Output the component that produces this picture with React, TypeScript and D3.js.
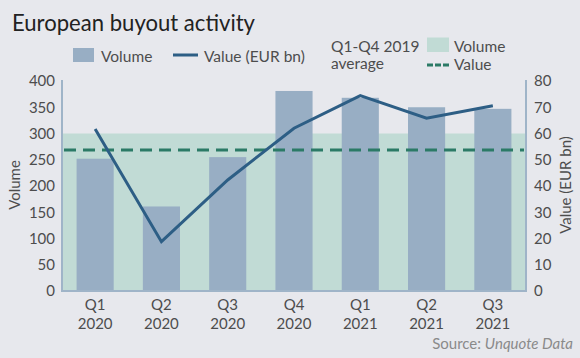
import React, { useEffect, useRef } from "react";
import * as d3 from "d3";

const quarters = ["Q1", "Q2", "Q3", "Q4", "Q1", "Q2", "Q3"];
const years = ["2020", "2020", "2020", "2020", "2021", "2021", "2021"];
const volume = [252, 161, 255, 381, 368, 350, 347];
const valueBn = [61.7, 18.8, 42.3, 62, 74.4, 65.8, 70.6];
const volumeAvg2019 = 300;
const valueAvg2019 = 53.7;
const volumeTicks = [0, 50, 100, 150, 200, 250, 300, 350, 400];
const valueTicks = [0, 10, 20, 30, 40, 50, 60, 70, 80];

const W = 580;
const H = 358;

const App: React.FC = () => {
    const svgRef = useRef<SVGSVGElement | null>(null);

    useEffect(() => {
        if (!svgRef.current) return;
        const svg = d3.select(svgRef.current);
        svg.selectAll("*").remove();

        const margin = { top: 81, right: 54, bottom: 67, left: 62 };
        const left = margin.left;
        const right = W - margin.right;
        const bottom = H - margin.bottom;
        const font = "Lato, 'Open Sans', sans-serif";
        const textColor = "#4d4d4d";
        const axisColor = "#9fb4c8";
        const barColor = "#98aec4";
        const bandColor = "#c1dbd5";
        const lineColor = "#2d5e85";
        const dashColor = "#2b7a66";

        svg.append("rect").attr("width", W).attr("height", H).attr("fill", "#e7e8ed");

        const labels = quarters.map((q, i) => q + " " + years[i] + i);
        const x = d3.scaleBand<string>().domain(labels).range([left, right]).paddingInner(0.44).paddingOuter(0.22);
        const yL = d3.scaleLinear().domain([0, 400]).range([bottom, margin.top]);
        const yR = d3.scaleLinear().domain([0, 80]).range([bottom, margin.top]);

        // title
        svg.append("text")
            .attr("x", 12).attr("y", 31)
            .attr("font-family", font).attr("font-size", 23)
            .attr("textLength", 243).attr("lengthAdjust", "spacingAndGlyphs")
            .attr("fill", "#222").text("European buyout activity");

        // 2019 average band
        svg.append("rect")
            .attr("x", left).attr("y", yL(volumeAvg2019))
            .attr("width", right - left).attr("height", bottom - yL(volumeAvg2019))
            .attr("fill", bandColor);

        // bars
        svg.append("g").selectAll("rect").data(volume).join("rect")
            .attr("x", (_d, i) => x(labels[i])!)
            .attr("y", (d) => yL(d))
            .attr("width", x.bandwidth())
            .attr("height", (d) => bottom - yL(d))
            .attr("fill", barColor);

        // dashed average value
        svg.append("line")
            .attr("x1", left + 2).attr("x2", right - 2)
            .attr("y1", yR(valueAvg2019)).attr("y2", yR(valueAvg2019))
            .attr("stroke", dashColor).attr("stroke-width", 3)
            .attr("stroke-dasharray", "12,7");

        // value line
        const line = d3.line<number>()
            .x((_d, i) => x(labels[i])! + x.bandwidth() / 2)
            .y((d) => yR(d));
        svg.append("path").datum(valueBn)
            .attr("d", line).attr("fill", "none")
            .attr("stroke", lineColor).attr("stroke-width", 3);

        // axes lines
        const axes = svg.append("g").attr("stroke", axisColor).attr("stroke-width", 2);
        axes.append("line").attr("x1", left).attr("x2", left).attr("y1", margin.top - 1).attr("y2", bottom + 1);
        axes.append("line").attr("x1", right).attr("x2", right).attr("y1", margin.top - 1).attr("y2", bottom + 1);
        axes.append("line").attr("x1", left).attr("x2", right).attr("y1", bottom).attr("y2", bottom);

        // tick labels
        svg.append("g").selectAll("text").data(volumeTicks).join("text")
            .attr("x", 55).attr("y", (d) => yL(d)).attr("dy", "0.35em")
            .attr("text-anchor", "end").attr("font-family", font).attr("font-size", 15)
            .attr("fill", textColor).text((d) => d);
        svg.append("g").selectAll("text").data(valueTicks).join("text")
            .attr("x", 534).attr("y", (d) => yR(d)).attr("dy", "0.35em")
            .attr("font-family", font).attr("font-size", 15)
            .attr("fill", textColor).text((d) => d);

        const xl = svg.append("g").selectAll("g").data(labels).join("g")
            .attr("transform", (d) => `translate(${x(d)! + x.bandwidth() / 2},0)`);
        xl.append("text").attr("y", 310).attr("text-anchor", "middle")
            .attr("font-family", font).attr("font-size", 15).attr("fill", textColor)
            .text((_d, i) => quarters[i]);
        xl.append("text").attr("y", 329).attr("text-anchor", "middle")
            .attr("font-family", font).attr("font-size", 15).attr("fill", textColor)
            .text((_d, i) => years[i]);

        // axis titles
        svg.append("text")
            .attr("transform", `translate(20,${(bottom + margin.top) / 2 - 1}) rotate(-90)`)
            .attr("text-anchor", "middle").attr("font-family", font).attr("font-size", 15)
            .attr("fill", textColor).text("Volume");
        svg.append("text")
            .attr("transform", `translate(571,${(bottom + margin.top) / 2 - 1}) rotate(-90)`)
            .attr("text-anchor", "middle").attr("font-family", font).attr("font-size", 15)
            .attr("fill", textColor).text("Value (EUR bn)");

        // legend
        const lg = svg.append("g").attr("font-family", font).attr("font-size", 15.5).attr("fill", textColor);
        lg.append("rect").attr("x", 73).attr("y", 48).attr("width", 21).attr("height", 14).attr("fill", barColor);
        lg.append("text").attr("x", 101).attr("y", 61.5).text("Volume");
        lg.append("line").attr("x1", 173).attr("x2", 198).attr("y1", 55).attr("y2", 55)
            .attr("stroke", lineColor).attr("stroke-width", 3);
        lg.append("text").attr("x", 204).attr("y", 61.5).text("Value (EUR bn)");
        lg.append("text").attr("x", 331).attr("y", 51.5).text("Q1-Q4 2019");
        lg.append("text").attr("x", 331).attr("y", 69).text("average");
        lg.append("rect").attr("x", 427).attr("y", 37.5).attr("width", 22).attr("height", 14.5).attr("fill", bandColor);
        lg.append("text").attr("x", 454).attr("y", 51.5).text("Volume");
        lg.append("line").attr("x1", 427).attr("x2", 449).attr("y1", 65).attr("y2", 65)
            .attr("stroke", dashColor).attr("stroke-width", 3).attr("stroke-dasharray", "6,2");
        lg.append("text").attr("x", 454).attr("y", 70).text("Value");

        // source
        const src = svg.append("text").attr("x", 573).attr("y", 349).attr("text-anchor", "end")
            .attr("font-family", font).attr("font-size", 15).attr("fill", "#8a8a8a");
        src.append("tspan").text("Source: ");
        src.append("tspan").attr("font-style", "italic").text("Unquote Data");
    }, []);

    return (
        <svg
            ref={svgRef}
            width={W}
            height={H}
            style={{ position: "absolute", left: 0, top: 0, display: "block" }}
        />
    );
};

export default App;
